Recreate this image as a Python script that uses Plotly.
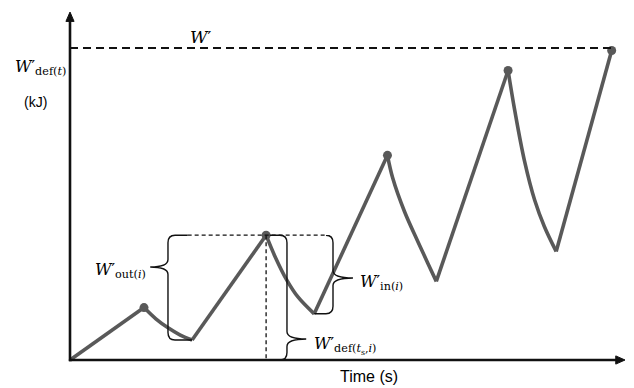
import plotly.graph_objects as go

# W'bal-style trace: work capacity expended (kJ) over time (s)
time_s = [0, 10, 11.6, 13.2, 14.9, 16.5, 26.5, 27.7, 29.3, 30.8, 33.0,
          42.9, 43.6, 45.2, 47.0, 48.4, 49.5, 59.2, 60.1, 61.4, 62.8, 64.1, 65.7, 73.2]
wdef_kj = [0, 4.2, 3.3, 2.6, 2.0, 1.6, 10.0, 8.3, 6.4, 5.05, 3.7,
           16.4, 14.6, 11.9, 9.5, 7.7, 6.3, 23.2, 20.0, 16.0, 12.8, 10.7, 8.7, 24.8]
peak_index = [1, 6, 11, 17, 23]
trough_index = [0, 5, 10, 16, 22]
w_prime_kj = 25.0
interval_start = 6      # t_s of interval i
interval_trough = 10    # end of recovery in interval i
prev_trough = 5

line_col = "#595959"
ink = "#111111"
PX_T, PX_W = 7.4, 12.48   # pixels per unit on each axis

fig = go.Figure()

# work bouts (straight rises) and recoveries (smooth exponential-like falls)
for k, p in enumerate(peak_index):
    tr = trough_index[k]
    fig.add_trace(go.Scatter(x=time_s[tr:p + 1], y=wdef_kj[tr:p + 1], mode="lines",
                             line=dict(color=line_col, width=3.6), hoverinfo="skip"))
    if k + 1 < len(trough_index):
        nt = trough_index[k + 1]
        fig.add_trace(go.Scatter(x=time_s[p:nt + 1], y=wdef_kj[p:nt + 1], mode="lines",
                                 line=dict(color=line_col, width=3.6, shape="spline",
                                           smoothing=1.0),
                                 hoverinfo="skip"))
fig.add_trace(go.Scatter(x=[time_s[i] for i in peak_index],
                         y=[wdef_kj[i] for i in peak_index], mode="markers",
                         marker=dict(color=line_col, size=9), hoverinfo="skip"))

shapes = []
# axes with arrowheads
y_tip = 27.88
x_tip = 75.0
shapes.append(dict(type="line", x0=0, y0=-0.1, x1=0, y1=y_tip - 0.5,
                   line=dict(color=ink, width=2.6)))
shapes.append(dict(type="line", x0=-0.15, y0=0, x1=x_tip - 0.8, y1=0,
                   line=dict(color=ink, width=2.6)))
shapes.append(dict(type="path",
                   path=f"M 0,{y_tip} L {-0.55},{y_tip-0.75} L {0.55},{y_tip-0.75} Z",
                   fillcolor=ink, line=dict(color=ink, width=1)))
shapes.append(dict(type="path",
                   path=f"M {x_tip},0 L {x_tip-1.25},{0.33} L {x_tip-1.25},{-0.33} Z",
                   fillcolor=ink, line=dict(color=ink, width=1)))

# W' capacity line
shapes.append(dict(type="line", x0=0, y0=w_prime_kj, x1=time_s[-1], y1=w_prime_kj,
                   line=dict(color=ink, width=2, dash="8px,5px")))

ts = time_s[interval_start]
wp = wdef_kj[interval_start]
# guide lines at the interval start
shapes.append(dict(type="line", x0=15.9, y0=wp, x1=34.6, y1=wp,
                   line=dict(color=ink, width=1.3, dash="4px,3px")))
shapes.append(dict(type="line", x0=ts, y0=wp, x1=ts, y1=0,
                   line=dict(color=ink, width=1.3, dash="4px,3px")))


def brace(xs, y_top, y_bot, y_mid, tip_dx, x_top_end, x_bot_end):
    d = 1 if x_top_end > xs else -1
    rx, ry, tr = 0.95, 0.6, 0.6
    return (f"M {x_top_end},{y_top} L {xs + d*rx},{y_top} "
            f"Q {xs},{y_top} {xs},{y_top - ry} L {xs},{y_mid + tr} "
            f"Q {xs},{y_mid} {xs + tip_dx},{y_mid} "
            f"Q {xs},{y_mid} {xs},{y_mid - tr} L {xs},{y_bot + ry} "
            f"Q {xs},{y_bot} {xs + d*rx},{y_bot} L {x_bot_end},{y_bot}")


bl = dict(color=ink, width=1.4)
shapes.append(dict(type="path", line=bl,
                   path=brace(13.24, wp, wdef_kj[prev_trough], 7.45, -2.4,
                              15.9, time_s[prev_trough])))
shapes.append(dict(type="path", line=bl,
                   path=brace(35.54, wp, wdef_kj[interval_trough], 6.57, 2.7,
                              34.6, time_s[interval_trough])))
shapes.append(dict(type="path", line=bl,
                   path=brace(29.32, wp, 0, 1.68, 2.6, 27.0, 27.0)))

serif = "DejaVu Serif"
sans = "Liberation Sans"
annos = [
    dict(x=17.6, y=25.9, text="<i>W</i>′", font=dict(family=serif, size=17),
         xanchor="center", yanchor="middle"),
    dict(x=-7.75, y=23.4, text="<i>W</i>′<sub>def(<i>t</i>)</sub>",
         font=dict(family=serif, size=16), xanchor="left", yanchor="middle"),
    dict(x=-4.73, y=20.67, text="(kJ)", font=dict(family=sans, size=14),
         xanchor="center", yanchor="middle"),
    dict(x=40.4, y=-1.36, text="Time (s)", font=dict(family=sans, size=16),
         xanchor="center", yanchor="middle"),
    dict(x=10.6, y=7.2, text="<i>W</i>′<sub>out(<i>i</i>)</sub>",
         font=dict(family=serif, size=16), xanchor="right", yanchor="middle"),
    dict(x=38.9, y=6.2, text="<i>W</i>′<sub>in(<i>i</i>)</sub>",
         font=dict(family=serif, size=16), xanchor="left", yanchor="middle"),
    dict(x=32.7, y=1.2, text="<i>W</i>′<sub>def(<i>t</i><sub>s</sub>,<i>i</i>)</sub>",
         font=dict(family=serif, size=16), xanchor="left", yanchor="middle"),
]
for a in annos:
    a.update(showarrow=False, xref="x", yref="y", font_color="#000000")

fig.update_layout(
    width=634, height=388,
    margin=dict(l=0, r=0, t=0, b=0),
    paper_bgcolor="white", plot_bgcolor="white",
    showlegend=False,
    shapes=shapes, annotations=annos,
    xaxis=dict(range=[-70 / PX_T, (634 - 70) / PX_T], visible=False, fixedrange=True),
    yaxis=dict(range=[(360 - 388) / PX_W, 360 / PX_W], visible=False, fixedrange=True),
)

fig.write_html("out.html")
